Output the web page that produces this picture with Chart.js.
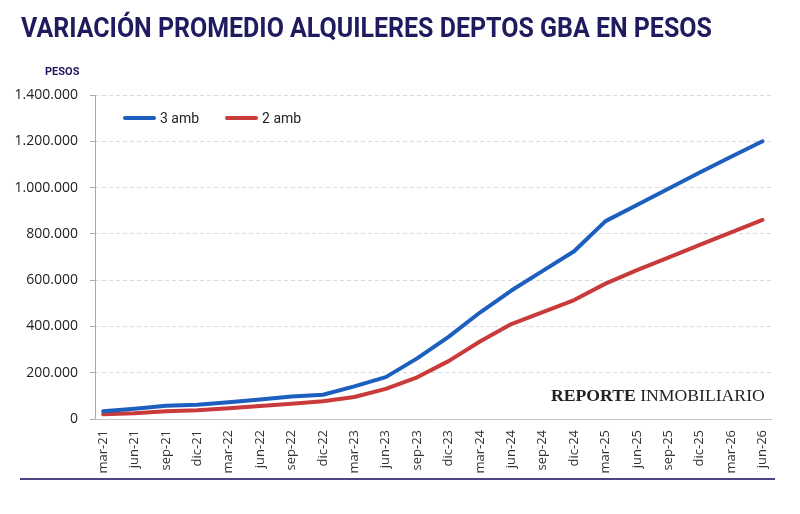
<!DOCTYPE html>
<html>
<head>
<meta charset="utf-8">
<script src="https://cdn.jsdelivr.net/npm/chart.js@4/dist/chart.umd.min.js"></script>
<style>
  html, body { margin: 0; padding: 0; background: #fff; }
  #wrap { position: relative; width: 800px; height: 514px; overflow: hidden; }
  #title { position: absolute; left: 21px; top: 11px; white-space: nowrap; transform-origin: 0 0;
           font: bold 28px Roboto, sans-serif; color: #1f1b5e; }
  #unit { position: absolute; left: 45px; top: 65px; font: bold 11px Roboto, sans-serif; color: #1f1b5e; }
  #mark { position: absolute; left: 551px; top: 386px; white-space: nowrap; transform-origin: 0 0;
          font: 17px "Liberation Serif", serif; color: #222; }
  #mark b { font-weight: bold; }
  #rule { position: absolute; left: 20px; top: 478px; width: 755px; height: 2px; background: #4a4683; }
  #legend { position: absolute; left: 123px; top: 110px; display: flex; align-items: center;
            font: 14px Roboto, sans-serif; color: #222; }
  #legend .item { display: flex; align-items: center; margin-right: 26px; }
  #legend .swatch { width: 33px; height: 4px; border-radius: 2px; margin-right: 4px; }
  #c { position: absolute; left: 0; top: 0; }
</style>
</head>
<body>
<div id="wrap">
  <canvas id="c" width="800" height="514"></canvas>
  <div id="title">VARIACIÓN PROMEDIO ALQUILERES DEPTOS GBA EN PESOS</div>
  <div id="unit">PESOS</div>
  <div id="legend"></div>
  <div id="mark"><b>REPORTE</b> INMOBILIARIO</div>
  <div id="rule"></div>
</div>
<script>
const quarters = ['mar-21', 'jun-21', 'sep-21', 'dic-21', 'mar-22', 'jun-22', 'sep-22', 'dic-22',
    'mar-23', 'jun-23', 'sep-23', 'dic-23', 'mar-24', 'jun-24', 'sep-24', 'dic-24',
    'mar-25', 'jun-25', 'sep-25', 'dic-25', 'mar-26', 'jun-26'];
const amb3 = [34000, 44000, 57000, 62000, 72000, 84000, 97000, 105000, 141000, 181000, 262000, 355000,
    460000, 555000, 640000, 725000, 855000, 925000, 995000, 1065000, 1133000, 1200000];
const amb2 = [20000, 25000, 34000, 38000, 46000, 56000, 66000, 77000, 95000, 130000, 180000, 250000,
    335000, 410000, 462000, 514000, 585000, 643000, 697000, 752000, 806000, 860000];
const yTicks = [0, 200000, 400000, 600000, 800000, 1000000, 1200000, 1400000];

// squeeze text blocks to the widths seen in the picture
function fitWidth(id, w) {
    const el = document.getElementById(id);
    el.style.transform = 'scaleX(' + (w / el.offsetWidth) + ')';
}
fitWidth('title', 691);
fitWidth('mark', 214);

const fmt = v => String(v).replace(/\B(?=(\d{3})+(?!\d))/g, '.');
const toPoints = arr => arr.map((v, i) => ({ x: i, y: v }));

// solid y axis line (border.dash would dash it too)
const yAxisLine = {
    id: 'yAxisLine',
    afterDraw(chart) {
        const a = chart.chartArea, c = chart.ctx;
        c.save();
        c.strokeStyle = '#aaa';
        c.lineWidth = 1;
        c.beginPath();
        c.moveTo(a.left + 0.5, a.top);
        c.lineTo(a.left + 0.5, a.bottom);
        c.stroke();
        c.restore();
    }
};

const ctx = document.getElementById('c').getContext('2d');
const chart = new Chart(ctx, {
    type: 'line',
    data: {
        datasets: [{
            label: '3 amb',
            data: toPoints(amb3),
            borderColor: '#1c5fbf',
            borderWidth: 4,
            borderCapStyle: 'round',
            borderJoinStyle: 'round',
            pointRadius: 0,
            tension: 0,
            fill: false
        },
        {
            label: '2 amb',
            data: toPoints(amb2),
            borderColor: '#c93a3a',
            borderWidth: 4,
            borderCapStyle: 'round',
            borderJoinStyle: 'round',
            pointRadius: 0,
            tension: 0,
            fill: false
        }]
    },
    options: {
        responsive: false,
        animation: false,
        layout: { padding: { left: 0, right: 29, top: 95, bottom: 35 } },
        plugins: {
            tooltip: { enabled: false },
            legend: { display: false }
        },
        scales: {
            x: {
                type: 'linear',
                min: -0.26,
                max: 21.27,
                afterFit: s => { s.height = 60; },
                grid: { drawOnChartArea: false, drawTicks: false },
                border: { display: true, color: '#c4c4c4', width: 1 },
                ticks: {
                    stepSize: 1,
                    includeBounds: false,
                    autoSkip: false,
                    maxRotation: 90,
                    minRotation: 90,
                    padding: 11,
                    color: '#333',
                    font: { family: 'Open Sans', size: 13 },
                    callback: v => Number.isInteger(v) ? quarters[v] : ''
                }
            },
            y: {
                min: 0,
                max: 1400000,
                afterFit: s => { s.width = 95; },
                afterBuildTicks: s => { s.ticks = yTicks.map(v => ({ value: v })); },
                grid: { color: '#d9d9e6', lineWidth: 1, tickLength: 5, tickColor: '#aaa' },
                border: { display: false, dash: [4, 3] },
                ticks: {
                    padding: 12,
                    color: '#222',
                    font: { family: 'Open Sans', size: 14 },
                    callback: v => fmt(v)
                }
            }
        }
    },
    plugins: [yAxisLine]
});

// html legend built from the datasets
document.getElementById('legend').innerHTML = chart.data.datasets.map(d =>
    '<span class="item"><span class="swatch" style="background:' + d.borderColor + '"></span>' + d.label + '</span>'
).join('');
</script>
</body>
</html>
